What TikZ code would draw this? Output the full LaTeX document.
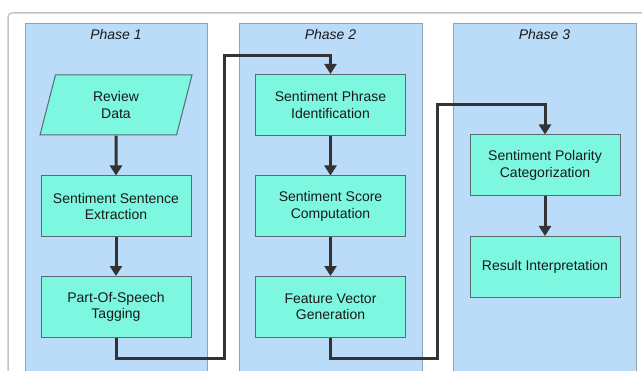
\documentclass[tikz,border=0pt]{standalone}
\usepackage{fontspec}
\setmainfont{Liberation Sans}
\usetikzlibrary{arrows.meta,shapes.geometric}
\definecolor{panelfill}{HTML}{BADCF8}
\definecolor{paneledge}{HTML}{8FA3B5}
\definecolor{boxfill}{HTML}{7DF7E0}
\definecolor{boxedge}{HTML}{5A6A70}
\definecolor{conncol}{HTML}{333333}
\definecolor{framecol}{HTML}{C4C4C4}
\definecolor{txtcol}{HTML}{1A1A1A}
\begin{document}
\begin{tikzpicture}[x=1pt,y=-1pt,
  panel/.style={draw=paneledge,fill=panelfill,line width=1pt},
  phasetitle/.style={font=\fontsize{14}{16}\selectfont\itshape,text=txtcol,inner sep=0pt},
  procbox/.style={draw=boxedge,fill=boxfill,line width=1pt,minimum width=150pt,minimum height=61pt,
    inner sep=0pt,align=center,text=txtcol,font=\fontsize{14}{16.5}\selectfont},
  databox/.style={trapezium,trapezium left angle=60,trapezium right angle=120,trapezium stretches body,
    draw=boxedge,fill=boxfill,line width=1pt,minimum width=152pt,minimum height=60pt,
    inner sep=0pt,align=center,text=txtcol,font=\fontsize{14}{16.5}\selectfont},
  conn/.style={draw=conncol,line width=3pt,-{Triangle[width=12pt,length=10pt]}},
  route/.style={draw=conncol,line width=3pt,rounded corners=0pt}
]
\useasboundingbox (0,0) rectangle (642,371);
% outer frame
\draw[framecol,line width=1.5pt,rounded corners=4pt] (8,380) -- (8,13) -- (650,13);
% panels
\path[panel] (25,24) rectangle (207,380);
\path[panel] (239,24) rectangle (422,380);
\path[panel] (453,24) rectangle (636,380);
\node[phasetitle] (t1) at (116,34) {Phase 1};
\node[phasetitle] (t2) at (330.5,34) {Phase 2};
\node[phasetitle] (t3) at (544.5,34) {Phase 3};
% phase 1
\node[databox] (rd) at (116,105) {Review\\Data};
\node[procbox] (sse) at (116,206.5) {Sentiment Sentence\\Extraction};
\node[procbox] (pos) at (116,307) {Part-Of-Speech\\Tagging};
% phase 2
\node[procbox] (spi) at (330.5,105) {Sentiment Phrase\\Identification};
\node[procbox] (ssc) at (330.5,206.5) {Sentiment Score\\Computation};
\node[procbox] (fvg) at (330.5,307) {Feature Vector\\Generation};
% phase 3
\node[procbox] (spc) at (545,165.5) {Sentiment Polarity\\Categorization};
\node[procbox] (ri) at (545,267) {Result Interpretation};
% connectors
\draw[conn] (rd.south) -- (sse.north);
\draw[conn] (sse.south) -- (pos.north);
\draw[conn] (spi.south) -- (ssc.north);
\draw[conn] (ssc.south) -- (fvg.north);
\draw[conn] (spc.south) -- (ri.north);
\coordinate (a1) at (224,358);
\coordinate (a2) at (224,56);
\draw[conn] (pos.south) |- (a1) -- (a2) -| (spi.north);
\coordinate (b1) at (437,358);
\coordinate (b2) at (437,105);
\draw[conn] (fvg.south) |- (b1) -- (b2) -| (spc.north);
\end{tikzpicture}
\end{document}
